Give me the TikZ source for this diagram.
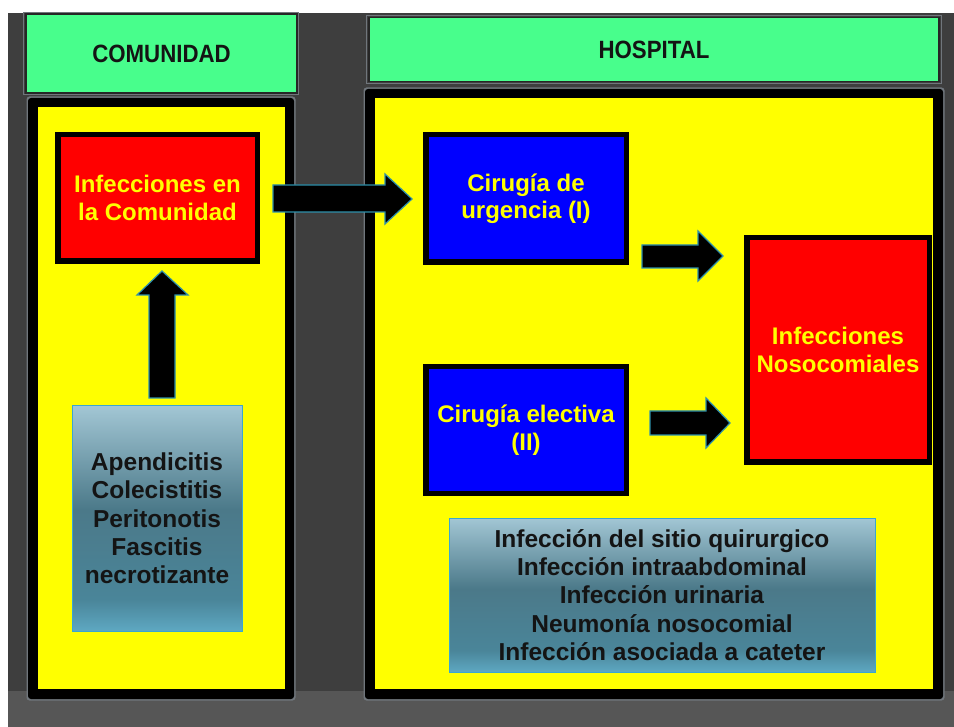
\documentclass[tikz,border=0pt]{standalone}
\usepackage{fontspec}
\usepackage{graphicx}
\setmainfont{Liberation Sans}
\definecolor{bgdark}{HTML}{3E3E3E}
\definecolor{bgband}{HTML}{565656}
\definecolor{hdrgreen}{HTML}{48FE8C}
\definecolor{edgegray}{HTML}{70767C}
\definecolor{ylw}{HTML}{FFFF00}
\definecolor{rd}{HTML}{FF0000}
\definecolor{bl}{HTML}{0000FF}
\definecolor{teal}{HTML}{2E8FAA}
\definecolor{gbord}{HTML}{3AA6D0}
\definecolor{gA}{HTML}{5EA8C2}
\definecolor{gB}{HTML}{4A8599}
\definecolor{gC}{HTML}{4B7989}
\definecolor{gD}{HTML}{A2C6D4}
\definecolor{txtdark}{HTML}{141414}
\pgfdeclareverticalshading{boxgrad}{100bp}{color(0bp)=(gA); color(25bp)=(gA); color(32bp)=(gB); color(52bp)=(gC); color(75bp)=(gD); color(100bp)=(gD)}
\newcommand{\hdrtext}[1]{\scalebox{0.89}[1]{#1}}
\tikzset{
  hdrbox/.style={draw=black!85, line width=1.2pt, fill=hdrgreen, inner sep=0pt,
     font=\fontsize{25}{28}\selectfont\bfseries, text=txtdark},
  colbox/.style={draw=black, line width=5.5pt, inner sep=0pt, align=center,
     font=\fontsize{24}{27.5}\selectfont\bfseries, text=ylw},
  gradbox/.style={draw=gbord, line width=1pt, shading=boxgrad, inner sep=0pt, align=center,
     font=\fontsize{24.5}{28.3}\selectfont\bfseries, text=txtdark},
  blockarrow/.style={fill=black, draw=teal, line width=1.2pt, line join=miter},
}
\begin{document}
\begin{tikzpicture}[x=1pt,y=-1pt]
\useasboundingbox (0,0) rectangle (954,727);
\fill[white] (0,0) rectangle (954,727);
\fill[bgdark] (8,13) rectangle (954,727);
\fill[bgband] (8,691) rectangle (954,727);

% headers
\draw[edgegray, line width=1pt] (23.5,12.5) rectangle (298.5,95);
\node[hdrbox, minimum width=271pt, minimum height=79pt] (hdrL) at (161.5,53.5) {\hdrtext{COMUNIDAD}};
\draw[edgegray, line width=1pt] (366.5,15.5) rectangle (941.5,83.5);
\node[hdrbox, minimum width=570pt, minimum height=64pt] (hdrR) at (654,49.5) {\hdrtext{HOSPITAL}};

% panels
\fill[edgegray, rounded corners=3pt] (26.5,96.5) rectangle (295.5,700.5);
\fill[black, rounded corners=3pt] (28,98) rectangle (294,699);
\fill[ylw] (38,107) rectangle (285,689);
\fill[edgegray, rounded corners=3pt] (363.5,87.5) rectangle (944.5,700.5);
\fill[black, rounded corners=3pt] (365,89) rectangle (943,699);
\fill[ylw] (375,98) rectangle (933,689);

% coloured boxes
\node[colbox, fill=rd, minimum width=199.5pt, minimum height=126.5pt] (comm) at (157.5,198) {Infecciones en\\la Comunidad};
\node[colbox, fill=bl, minimum width=200.5pt, minimum height=127.5pt] (urg) at (526,198.5) {Cirugía de\\urgencia (I)};
\node[colbox, fill=bl, minimum width=200.5pt, minimum height=126.5pt] (elec) at (526,430) {Cirugía electiva\\(II)};
\node[colbox, fill=rd, minimum width=182.5pt, minimum height=224.5pt] (noso) at (838,350) {Infecciones\\Nosocomiales};

% gradient boxes
\node[gradbox, minimum width=170pt, minimum height=225pt] (causes) at (157,518.5) {Apendicitis\\Colecistitis\\Peritonotis\\Fascitis\\necrotizante};
\node[gradbox, minimum width=426pt, minimum height=154pt] (hosp) at (662,595) {Infección del sitio quirurgico\\Infección intraabdominal\\Infección urinaria\\Neumonía nosocomial\\Infección asociada a cateter};

% block arrows
\draw[blockarrow] (149,398) -- (149,295) -- (137,295) -- (162,271) -- (188,295) -- (175,295) -- (175,398) -- cycle;
\draw[blockarrow] (273,185) -- (385,185) -- (385,174) -- (412,199) -- (385,224) -- (385,212) -- (273,212) -- cycle;
\draw[blockarrow] (642,245) -- (698,245) -- (698,231) -- (723,256) -- (698,281) -- (698,268) -- (642,268) -- cycle;
\draw[blockarrow] (650,411) -- (706,411) -- (706,398) -- (730,423) -- (706,448) -- (706,435) -- (650,435) -- cycle;
\end{tikzpicture}
\end{document}
